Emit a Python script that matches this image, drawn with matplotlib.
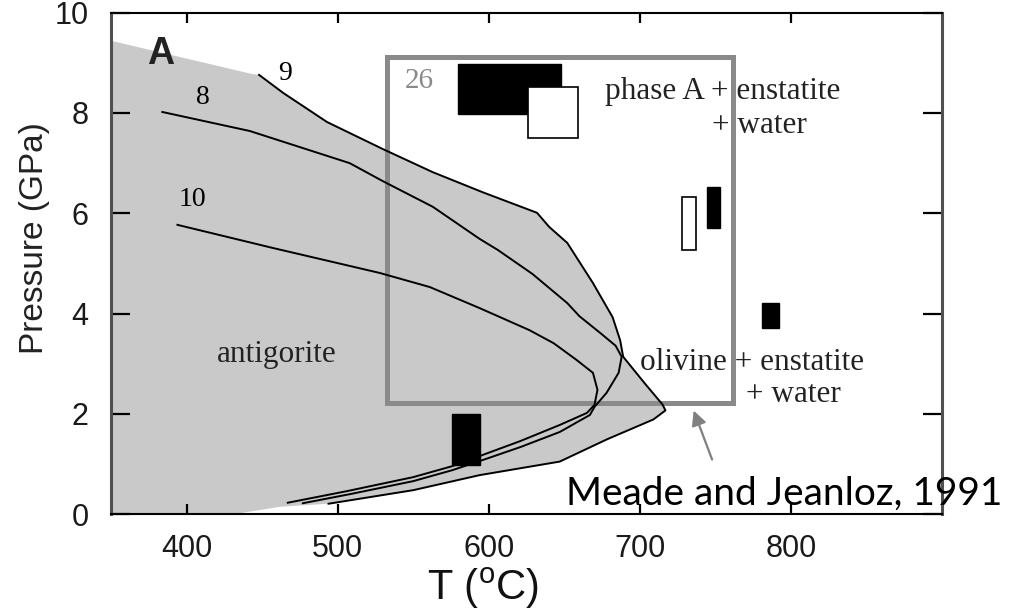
import matplotlib.pyplot as plt
from matplotlib.patches import Rectangle, Polygon

# values: T in deg C, P in GPa
# curve 9 = outline of the antigorite field
curve9_T = [448, 464, 493, 530, 563, 596, 632, 640, 652, 669, 682, 687, 689,
            703, 715, 717, 709, 678, 647, 594, 550, 494]
curve9_P = [8.76, 8.40, 7.82, 7.28, 6.82, 6.42, 6.01, 5.73, 5.41, 4.61, 3.93,
            3.47, 3.14, 2.62, 2.19, 2.07, 1.89, 1.49, 1.05, 0.78, 0.48, 0.21]

curve8_T = [384, 442, 508, 530, 563, 594, 606, 629, 652, 660, 674, 684, 688,
            686, 678, 670, 667, 647, 621, 594, 576, 550, 508, 477]
curve8_P = [8.02, 7.64, 7.00, 6.64, 6.13, 5.49, 5.27, 4.79, 4.21, 3.95, 3.61,
            3.36, 3.14, 2.82, 2.42, 2.14, 1.98, 1.64, 1.34, 1.06, 0.88, 0.66,
            0.40, 0.22]

curve10_T = [394, 457, 528, 561, 594, 627, 643, 658, 669, 672, 670, 665, 647,
             621, 594, 576, 550, 506, 467]
curve10_P = [5.77, 5.31, 4.81, 4.53, 4.11, 3.67, 3.41, 3.08, 2.82, 2.48, 2.18,
             2.02, 1.78, 1.46, 1.16, 0.96, 0.74, 0.46, 0.23]

# rest of the shaded field outline
field_top_T = [350, 443]
field_top_P = [9.44, 8.78]
field_bottom_T = [462, 431, 350]
field_bottom_P = [0.15, 0.0, 0.0]

# experimental brackets (Tmin, Tmax, Pmin, Pmax)
solid_blocks = [(580, 648, 7.97, 8.98), (744.5, 753, 5.71, 6.53),
                (781, 792, 3.72, 4.22), (576, 594, 0.98, 2.0)]
open_blocks = [(626, 659, 7.50, 8.52), (728, 737, 5.27, 6.33)]

# Meade and Jeanloz study range
study_box = (533, 762, 2.22, 9.12)

x_ticks = [400, 500, 600, 700, 800]
y_ticks = [0, 2, 4, 6, 8, 10]

plt.rcParams['mathtext.fontset'] = 'custom'
plt.rcParams['mathtext.rm'] = 'Liberation Sans'

fig = plt.figure(figsize=(10.19, 6.12), dpi=100)
ax = fig.add_axes([0.1089, 0.1597, 0.8155, 0.8196])

field_T = field_top_T + curve9_T + field_bottom_T
field_P = field_top_P + curve9_P + field_bottom_P
ax.add_patch(Polygon(list(zip(field_T, field_P)), closed=True,
                     fc='#c9c9c9', ec='none', zorder=1))

t0, t1, p0, p1 = study_box
ax.add_patch(Rectangle((t0, p0), t1 - t0, p1 - p0, fill=False,
                       ec='#8a8a8a', lw=3.6, zorder=2))

for T, P in [(curve9_T, curve9_P), (curve8_T, curve8_P), (curve10_T, curve10_P)]:
    ax.plot(T, P, color='black', lw=1.4, zorder=3)

for t0, t1, p0, p1 in solid_blocks:
    ax.add_patch(Rectangle((t0, p0), t1 - t0, p1 - p0, fc='black',
                           ec='black', lw=1.0, zorder=4))
for t0, t1, p0, p1 in open_blocks:
    ax.add_patch(Rectangle((t0, p0), t1 - t0, p1 - p0, fc='white',
                           ec='black', lw=1.2, zorder=5))

serif = 'Liberation Serif'
ax.text(383, 9.18, 'A', fontsize=27, fontweight='bold', family='Liberation Sans',
        ha='center', va='center', color='#222222')
ax.text(465, 8.78, '9', fontsize=20, family=serif, ha='center', va='center')
ax.text(411, 8.30, '8', fontsize=20, family=serif, ha='center', va='center')
ax.text(404, 6.27, '10', fontsize=20, family=serif, ha='center', va='center')
ax.text(554, 8.64, '26', fontsize=21, family=serif, ha='center', va='center',
        color='#8a8a8a')
ax.text(460, 3.18, 'antigorite', fontsize=22.5, family=serif, ha='center',
        va='center', color='#222222')
ax.text(677, 8.42, 'phase A + enstatite', fontsize=22.5, family=serif,
        ha='left', va='center', color='#222222', zorder=6)
ax.text(748, 7.76, '+ water', fontsize=22.5, family=serif, ha='left',
        va='center', color='#222222', zorder=6)
ax.text(700, 3.02, 'olivine + enstatite', fontsize=22.5, family=serif,
        ha='left', va='center', color='#222222', zorder=6)
ax.text(770, 2.38, '+ water', fontsize=22.5, family=serif, ha='left',
        va='center', color='#222222', zorder=6)

ax.annotate('', xy=(735, 2.12), xytext=(748.5, 1.04),
            arrowprops=dict(arrowstyle='-|>', color='#808080', lw=1.6,
                            mutation_scale=22), zorder=6)
ax.text(651, 0.40, 'Meade and Jeanloz, 1991', fontsize=28, family='Lato',
        ha='left', va='center', color='black', zorder=7)

ax.set_xlim(350, 900)
ax.set_ylim(0, 10)
ax.set_xticks(x_ticks)
ax.set_yticks(y_ticks)
ax.tick_params(axis='both', direction='in', top=True, right=True,
               labelsize=22, labelcolor='#1a1a1a', width=1.6)
ax.tick_params(axis='y', length=14, pad=16)
ax.tick_params(axis='x', length=7, pad=14)
for lab in ax.get_xticklabels() + ax.get_yticklabels():
    lab.set_family('Liberation Sans')

for side in ['top', 'bottom']:
    ax.spines[side].set_color('black')
    ax.spines[side].set_linewidth(1.5)
for side in ['left', 'right']:
    ax.spines[side].set_color('#505050')
    ax.spines[side].set_linewidth(2.2)

fig.text(0.0334, 0.611, 'Pressure (GPa)', rotation=90, fontsize=24,
         family='Liberation Sans', ha='center', va='center', color='#222222')
fig.text(0.474, 0.039, r'T ($^{\mathrm{o}}$C)', fontsize=30,
         family='Liberation Sans', ha='center', va='center', color='#111111')

fig.savefig('out.png', dpi=100)
